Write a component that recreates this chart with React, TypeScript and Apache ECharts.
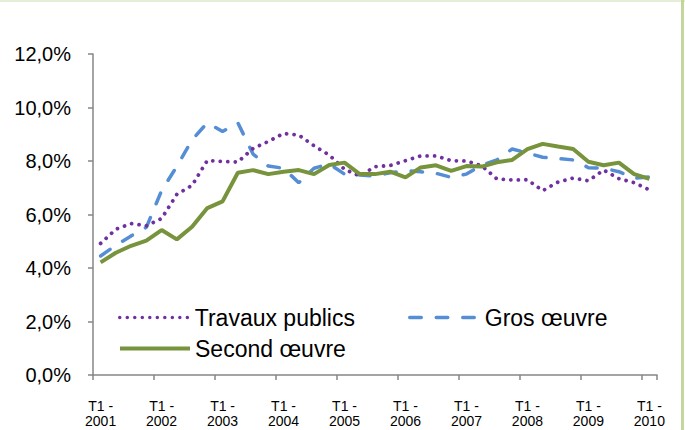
import React, { useEffect, useRef } from "react";
import * as echarts from "echarts";

const years = [2001, 2002, 2003, 2004, 2005, 2006, 2007, 2008, 2009, 2010];
const quarters = ["T1", "T2", "T3", "T4"];
const categories: string[] = [];
years.forEach((y) => {
  quarters.forEach((q) => {
    if (y < 2010 || q === "T1") categories.push(`${q} - ${y}`);
  });
});

const travauxPublics = [
  4.92, 5.45, 5.66, 5.58, 5.85, 6.75, 7.09, 8.02, 7.98, 7.96, 8.47, 8.73, 9.03,
  8.97, 8.57, 8.22, 7.69, 7.44, 7.79, 7.83, 8.01, 8.19, 8.19, 8.01, 8.0, 7.82,
  7.33, 7.29, 7.3, 6.89, 7.21, 7.36, 7.26, 7.66, 7.34, 7.19, 6.92,
];
const grosOeuvre = [
  4.45, 4.85, 5.2, 5.52, 6.89, 7.8, 8.79, 9.43, 9.1, 9.43, 8.26, 7.81, 7.73,
  7.19, 7.73, 7.89, 7.51, 7.48, 7.44, 7.56, 7.64, 7.6, 7.54, 7.39, 7.51, 7.85,
  8.04, 8.45, 8.3, 8.14, 8.09, 8.04, 7.75, 7.73, 7.6, 7.35, 7.41,
];
const secondOeuvre = [
  4.21, 4.57, 4.83, 5.02, 5.42, 5.07, 5.54, 6.24, 6.49, 7.56, 7.66, 7.51, 7.6,
  7.66, 7.51, 7.85, 7.94, 7.51, 7.51, 7.6, 7.39, 7.76, 7.84, 7.63, 7.81, 7.79,
  7.95, 8.04, 8.44, 8.64, 8.54, 8.45, 7.97, 7.84, 7.94, 7.51, 7.33,
];

const FONT = "'Liberation Sans', Arial, sans-serif";
const PURPLE = "#7030A0";
const BLUE = "#558ED5";
const GREEN = "#77933C";

export default function App() {
  const ref = useRef<HTMLDivElement>(null);
  useEffect(() => {
    if (!ref.current) return;
    const chart = echarts.init(ref.current, null, { renderer: "svg" });
    const legendBase = {
      orient: "horizontal" as const,
      itemWidth: 70,
      itemHeight: 14,
      padding: 0,
      textStyle: { fontFamily: FONT, fontSize: 23, color: "#000" },
      itemStyle: { color: "transparent", borderColor: "transparent", borderWidth: 0, opacity: 0 },
      selectedMode: false,
    };
    chart.setOption({
      animation: false,
      backgroundColor: "#fff",
      grid: { left: 93, right: 28, top: 54, bottom: 55, containLabel: false },
      legend: [
        { ...legendBase, left: 118, top: 306, data: ["Travaux publics"], lineStyle: { width: 3.5 } },
        { ...legendBase, left: 408, top: 306, data: ["Gros œuvre"], lineStyle: { width: 3.5 } },
        { ...legendBase, left: 118, top: 337, data: ["Second œuvre"], lineStyle: { width: 4 } },
      ],
      xAxis: {
        type: "category",
        data: categories,
        boundaryGap: true,
        axisLine: { lineStyle: { color: "#868686", width: 1.5 } },
        axisTick: { show: true, interval: 3, length: 5, lineStyle: { color: "#868686", width: 1.5 } },
        axisLabel: {
          interval: 3,
          margin: 23,
          fontFamily: FONT,
          fontSize: 14,
          lineHeight: 15,
          color: "#000",
          formatter: (v: string) => v.replace(" - ", " -\n"),
        },
        splitLine: { show: false },
      },
      yAxis: {
        type: "value",
        min: 0,
        max: 12,
        interval: 2,
        axisLine: { show: true, lineStyle: { color: "#868686", width: 1.5 } },
        axisTick: { show: true, length: 5, lineStyle: { color: "#868686", width: 1.5 } },
        axisLabel: {
          margin: 22,
          fontFamily: FONT,
          fontSize: 20,
          color: "#000",
          formatter: (v: number) => v.toFixed(1).replace(".", ",") + "%",
        },
        splitLine: { show: false },
      },
      series: [
        {
          name: "Travaux publics",
          type: "line",
          data: travauxPublics,
          symbol: "none",
          itemStyle: { color: PURPLE },
          lineStyle: { color: PURPLE, width: 3.8, type: [0.01, 7.5], cap: "round" },
          z: 3,
        },
        {
          name: "Gros œuvre",
          type: "line",
          data: grosOeuvre,
          symbol: "none",
          itemStyle: { color: BLUE },
          lineStyle: { color: BLUE, width: 3.5, type: [11.5, 15], cap: "round" },
          z: 2,
        },
        {
          name: "Second œuvre",
          type: "line",
          data: secondOeuvre,
          symbol: "none",
          itemStyle: { color: GREEN },
          lineStyle: { color: GREEN, width: 4 },
          z: 4,
        },
      ],
      graphic: [
        { type: "rect", left: 0, top: 0, shape: { width: 685, height: 2 }, style: { fill: "#E6EED7" }, silent: true },
        { type: "rect", left: 681, top: 0, shape: { width: 3, height: 430 }, style: { fill: "#C3D69B" }, silent: true },
      ],
    });
    return () => chart.dispose();
  }, []);
  return (
    <div
      ref={ref}
      style={{ position: "absolute", left: 0, top: 0, width: 685, height: 430 }}
    />
  );
}
